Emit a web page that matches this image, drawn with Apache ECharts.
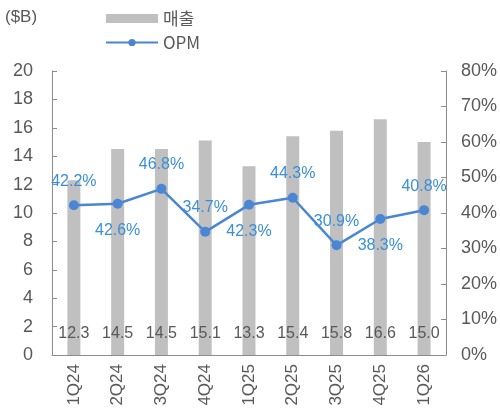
<!DOCTYPE html>
<html><head><meta charset="utf-8">
<script src="https://cdn.jsdelivr.net/npm/echarts@6/dist/echarts.min.js"></script>
<style>html,body{margin:0;padding:0;background:#fff}#c{width:500px;height:412px}</style>
</head><body><div id="c"></div>
<script>
const categories = ['1Q24','2Q24','3Q24','4Q24','1Q25','2Q25','3Q25','4Q25','1Q26'];
const sales = [12.3,14.5,14.5,15.1,13.3,15.4,15.8,16.6,15.0];
const opm = [42.2,42.6,46.8,34.7,42.3,44.3,30.9,38.3,40.8];
const opmLabelPos = ['top','bottom','top','top','bottom','top','top','bottom','top'];
const leftTicks = [0,20,2];
const rightTicks = [0,80,10];

const F = 'Liberation Sans, Arial, sans-serif';
const gray = '#595959';
const chart = echarts.init(document.getElementById('c'));
chart.setOption({
  animation:false,
  textStyle:{fontFamily:F},
  graphic:[{type:'text',left:5,top:9,style:{text:'($B)',font:'17px '+F,fill:gray}}],
  legend:{
    orient:'vertical', left:100, top:5, itemGap:7, itemWidth:52, itemHeight:9,
    textStyle:{fontSize:17,color:gray,fontFamily:'Noto Sans CJK KR, '+F},
    data:[{name:'매출',icon:'rect'},{name:'OPM'}]
  },
  grid:{left:52,right:53,top:71,bottom:57},
  xAxis:{
    type:'category', data:categories,
    axisLine:{lineStyle:{color:'#8c8c8c'}},
    axisTick:{inside:true,length:5,lineStyle:{color:'#8c8c8c'}},
    axisLabel:{rotate:90,fontSize:17,color:gray,margin:9}
  },
  yAxis:[
    {type:'value',min:leftTicks[0],max:leftTicks[1],interval:leftTicks[2],
     axisLine:{show:true,lineStyle:{color:'#8c8c8c'}},
     axisTick:{show:true,inside:true,length:5,lineStyle:{color:'#8c8c8c'}},
     splitLine:{show:false},
     axisLabel:{fontSize:18,color:gray,margin:19}},
    {type:'value',min:rightTicks[0],max:rightTicks[1],interval:rightTicks[2],
     axisLine:{show:true,lineStyle:{color:'#8c8c8c'}},
     axisTick:{show:true,inside:true,length:5,lineStyle:{color:'#8c8c8c'}},
     splitLine:{show:false},
     axisLabel:{fontSize:18,color:gray,margin:15,formatter:'{value}%'}}
  ],
  series:[
    {name:'매출',type:'bar',data:sales,barWidth:13,
     itemStyle:{color:'#c0c0c0'},
     label:{show:true,position:'insideBottom',distance:13,color:'#595959',fontSize:16,fontFamily:F,
            formatter:p=>p.value.toFixed(1)}},
    {name:'OPM',type:'line',yAxisIndex:1,
     data:opm.map((v,i)=>({value:v,label:{position:opmLabelPos[i],distance:opmLabelPos[i]==='bottom'?14:11}})),
     symbol:'circle',symbolSize:10,
     lineStyle:{color:'#4a86d4',width:2.5},
     itemStyle:{color:'#4a86d4'},
     label:{show:true,color:'#3a8fd8',fontSize:16,formatter:p=>p.value.toFixed(1)+'%'}}
  ]
});
</script></body></html>
